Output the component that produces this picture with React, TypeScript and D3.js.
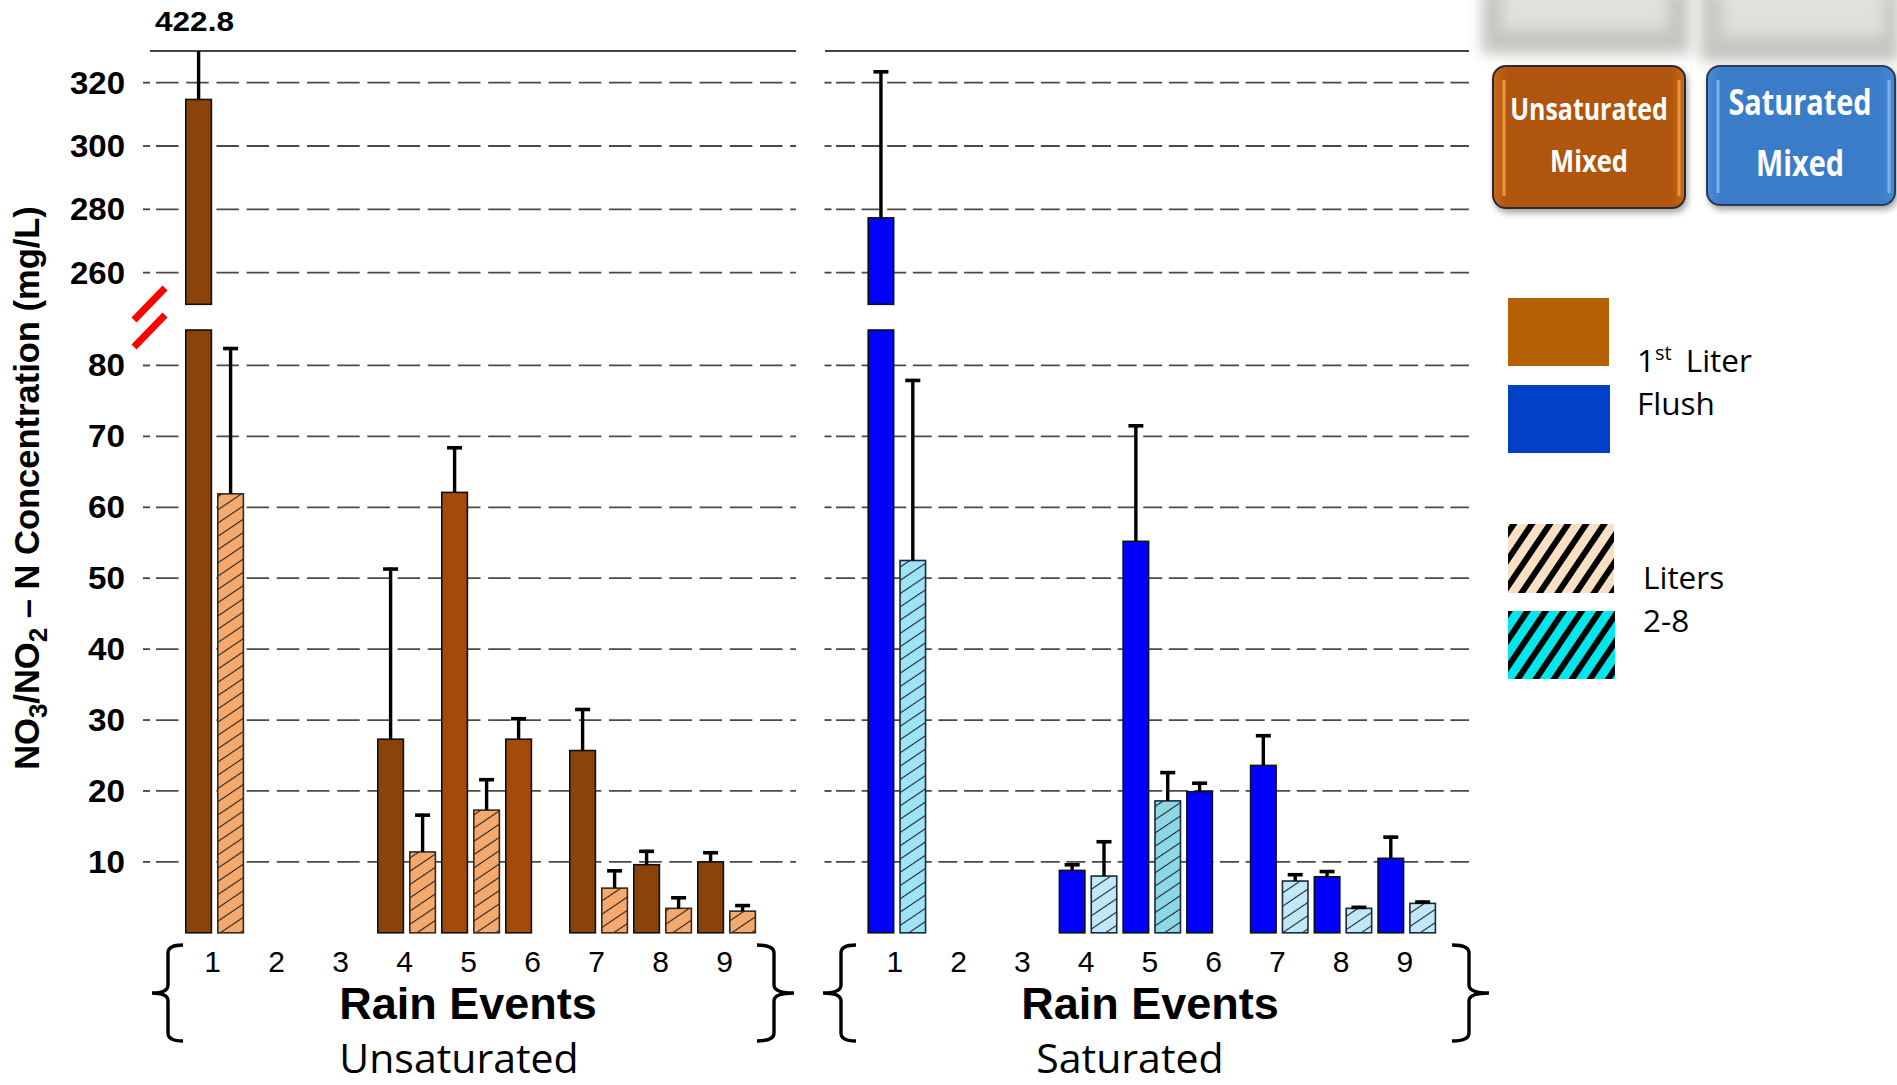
import React from 'react';
import * as d3 from 'd3';

// ---------- data ----------
const events = ['1', '2', '3', '4', '5', '6', '7', '8', '9'];
// mean values (mg/L); null = no sample
const unsatFirst = [314.7, null, null, 27.3, 62.1, 27.3, 25.7, 9.6, 10.0];
const unsatFirstErr = [422.8, null, null, 51.5, 68.6, 30.4, 31.7, 11.7, 11.5];
const unsatRest = [61.9, null, null, 11.4, 17.3, null, 6.3, 3.45, 3.05];
const unsatRestErr = [82.6, null, null, 16.8, 21.8, null, 8.95, 5.15, 4.05];
const satFirst = [277.3, null, null, 8.8, 55.2, 19.9, 23.6, 7.9, 10.5];
const satFirstErr = [323.9, null, null, 9.8, 71.7, 21.3, 28.0, 8.85, 13.7];
const satRest = [52.5, null, null, 8.0, 18.6, null, 7.3, 3.45, 4.15];
const satRestErr = [78.1, null, null, 13.05, 22.8, null, 8.4, 3.8, 4.55];
const upperTicks = [260, 280, 300, 320];
const lowerTicks = [10, 20, 30, 40, 50, 60, 70, 80];
const clippedLabel = '422.8';

// ---------- styles ----------
const unsatFirstColors = ['#8A4409', '', '', '#8A4409', '#A34C09', '#A34C09', '#8A4409', '#8A4409', '#8A4409'];
const unsatRestColors = ['#F5A96C', '', '', '#F5A96C', '#F5A96C', '', '#F5A96C', '#F5A96C', '#F5A96C'];
const satFirstColors = ['#0000FF', '', '', '#0000FF', '#0000FF', '#0000FF', '#0000FF', '#0000FF', '#0000FF'];
const satRestColors = ['#9EE4F8', '', '', '#C0E8F8', '#8ED8E6', '', '#C0E8F8', '#C0E8F8', '#C0E8F8'];

const ARIAL = 'Liberation Sans, Arial, Helvetica, sans-serif';
const OPEN = 'Open Sans, Noto Sans, sans-serif';

const W = 1897;
const H = 1085;

const yUp = d3.scaleLinear().domain([250, 330]).range([304.3, 51]);
const yLo = d3.scaleLinear().domain([0, 85]).range([932.8, 330]);
const LO_MAX = 85;
const UP_MAX = 330;

type Panel = {
  key: string;
  first: (number | null)[];
  firstErr: (number | null)[];
  rest: (number | null)[];
  restErr: (number | null)[];
  firstColors: string[];
  restColors: string[];
  range: [number, number];
  topX: [number, number];
  tickX: number;
  gridStart: number;
  dash: string;
  label: string;
  labelX: number;
  titleX: number;
  braces: [number, number, number, number];
  hatchStroke: string;
};

const panels: Panel[] = [
  {
    key: 'unsat',
    first: unsatFirst, firstErr: unsatFirstErr, rest: unsatRest, restErr: unsatRestErr,
    firstColors: unsatFirstColors, restColors: unsatRestColors,
    range: [182.6, 758.6], topX: [150, 796], tickX: 143, gridStart: 156, dash: '22.5,7.7',
    label: 'Unsaturated', labelX: 459, titleX: 468,
    braces: [168, 152, 774, 794], hatchStroke: '#3a2a1a',
  },
  {
    key: 'sat',
    first: satFirst, firstErr: satFirstErr, rest: satRest, restErr: satRestErr,
    firstColors: satFirstColors, restColors: satRestColors,
    range: [865, 1438.6], topX: [825, 1469], tickX: 824.5, gridStart: 836, dash: '19,6.6',
    label: 'Saturated', labelX: 1130, titleX: 1150,
    braces: [841, 823, 1469, 1489], hatchStroke: '#1a2a3a',
  },
];

function Bar({ v, err, x, w, fill, hatched, stroke }: any) {
  const parts: any[] = [];
  const segs: [number, number][] = [];
  if (v > LO_MAX) {
    segs.push([yLo(LO_MAX), yLo(0)]);
    segs.push([yUp(Math.min(v, UP_MAX)), yUp(250)]);
  } else {
    segs.push([yLo(v), yLo(0)]);
  }
  segs.forEach(([y0, y1], i) => {
    parts.push(<rect key={'f' + i} x={x} y={y0} width={w} height={y1 - y0} fill={fill} />);
    if (hatched) parts.push(<rect key={'h' + i} x={x} y={y0} width={w} height={y1 - y0} fill="url(#hatchThin)" />);
    parts.push(<rect key={'s' + i} x={x} y={y0} width={w} height={y1 - y0} fill="none" stroke={stroke} strokeWidth={1.6} />);
  });
  const cx = x + w / 2;
  const sc = v > LO_MAX ? yUp : yLo;
  const yTop = sc(v);
  const clipped = err > (v > LO_MAX ? UP_MAX : LO_MAX);
  const yErr = v > LO_MAX ? yUp(Math.min(err, UP_MAX)) : yLo(Math.min(err, LO_MAX));
  parts.push(<line key="e" x1={cx} x2={cx} y1={yTop} y2={yErr} stroke="#000" strokeWidth={3.4} />);
  if (!clipped) parts.push(<line key="c" x1={cx - 7.5} x2={cx + 7.5} y1={yErr + 1.5} y2={yErr + 1.5} stroke="#000" strokeWidth={3.6} />);
  return <g>{parts}</g>;
}

function bracePath(xv: number, tip: number, top: number, bot: number, hook: number) {
  const mid = (top + bot) / 2;
  const dir = Math.sign(tip - xv);
  const hx = xv - dir * hook;
  return `M${hx},${top} Q${xv},${top} ${xv},${top + 8} L${xv},${mid - 8} Q${xv},${mid} ${tip},${mid} Q${xv},${mid} ${xv},${mid + 8} L${xv},${bot - 8} Q${xv},${bot} ${hx},${bot}`;
}

export default function App() {
  return (
    <svg width={W} height={H} style={{ position: 'absolute', left: 0, top: 0, background: '#fff' }} xmlns="http://www.w3.org/2000/svg">
      <defs>
        <pattern id="hatchThin" patternUnits="userSpaceOnUse" width="12" height="11" patternTransform="rotate(-34)">
          <line x1="0" y1="5.5" x2="12" y2="5.5" stroke="#222" strokeWidth="1.1" />
        </pattern>
        <pattern id="hatchBold" patternUnits="userSpaceOnUse" width="15" height="15" patternTransform="rotate(-56)">
          <rect x="0" y="0" width="15" height="6" fill="#000" />
        </pattern>
        <filter id="blur8" x="-20%" y="-50%" width="140%" height="200%">
          <feGaussianBlur stdDeviation="7" />
        </filter>
        <filter id="shadow" x="-10%" y="-10%" width="130%" height="130%">
          <feGaussianBlur in="SourceAlpha" stdDeviation="3" />
          <feOffset dx="2" dy="4" result="o" />
          <feComponentTransfer><feFuncA type="linear" slope="0.35" /></feComponentTransfer>
          <feMerge><feMergeNode /><feMergeNode in="SourceGraphic" /></feMerge>
        </filter>
        <linearGradient id="gradOrange" x1="0" x2="1" y1="0" y2="0">
          <stop offset="0" stopColor="#C7691A" />
          <stop offset="0.08" stopColor="#B0540A" />
          <stop offset="0.92" stopColor="#B0540A" />
          <stop offset="1" stopColor="#C7691A" />
        </linearGradient>
        <linearGradient id="gradBlue" x1="0" x2="1" y1="0" y2="0">
          <stop offset="0" stopColor="#4A8BD8" />
          <stop offset="0.08" stopColor="#3A7CC9" />
          <stop offset="0.92" stopColor="#3A7CC9" />
          <stop offset="1" stopColor="#4A8BD8" />
        </linearGradient>
      </defs>

      {panels.map((p) => {
        const x0 = d3.scaleBand<string>().domain(events).range(p.range).paddingInner(0).paddingOuter(0);
        const x1 = d3.scaleBand<string>().domain(['first', 'rest']).range([0, x0.bandwidth()]).paddingInner(0.2).paddingOuter(0.1);
        const allTicks = [...upperTicks.map((t) => yUp(t)), ...lowerTicks.map((t) => yLo(t))];
        return (
          <g key={p.key}>
            <line x1={p.topX[0]} x2={p.topX[1]} y1={yUp(UP_MAX)} y2={yUp(UP_MAX)} stroke="#444" strokeWidth={2.2} />
            {allTicks.map((y, i) => (
              <g key={i}>
                <line x1={p.tickX} x2={p.tickX + 7} y1={y} y2={y} stroke="#444" strokeWidth={1.8} />
                <line x1={p.gridStart} x2={p.topX[1]} y1={y} y2={y} stroke="#4a4a4a" strokeWidth={1.8} strokeDasharray={p.dash} />
              </g>
            ))}
            {events.map((e, i) => (
              <g key={e}>
                {p.first[i] != null && (
                  <Bar v={p.first[i]} err={p.firstErr[i]} x={(x0(e) as number) + (x1('first') as number)} w={x1.bandwidth()} fill={p.firstColors[i]} hatched={false} stroke="#111" />
                )}
                {p.rest[i] != null && (
                  <Bar v={p.rest[i]} err={p.restErr[i]} x={(x0(e) as number) + (x1('rest') as number)} w={x1.bandwidth()} fill={p.restColors[i]} hatched={true} stroke={p.hatchStroke} />
                )}
              </g>
            ))}
            {events.map((e) => (
              <text key={'l' + e} x={(x0(e) as number) + x0.bandwidth() / 2 - 2} y={972} textAnchor="middle" fontFamily={ARIAL} fontSize={30} fill="#000">{e}</text>
            ))}
            <path d={bracePath(p.braces[0], p.braces[1], 945, 1041, 15)} fill="none" stroke="#000" strokeWidth={3.4} />
            <path d={bracePath(p.braces[2], p.braces[3], 945, 1041, 17)} fill="none" stroke="#000" strokeWidth={3.4} />
            <text x={p.titleX} y={1019} textAnchor="middle" fontFamily={ARIAL} fontWeight="bold" fontSize={45} fill="#000">Rain Events</text>
            <text x={p.labelX} y={1073} textAnchor="middle" fontFamily={OPEN} fontSize={41} fill="#000">{p.label}</text>
          </g>
        );
      })}

      {upperTicks.map((t) => (
        <text key={'u' + t} x={125} y={yUp(t) + 11} textAnchor="end" fontFamily={ARIAL} fontWeight="bold" fontSize={30.5} textLength={55} lengthAdjust="spacingAndGlyphs">{t}</text>
      ))}
      {lowerTicks.map((t) => (
        <text key={'d' + t} x={125} y={yLo(t) + 11} textAnchor="end" fontFamily={ARIAL} fontWeight="bold" fontSize={30.5} textLength={37} lengthAdjust="spacingAndGlyphs">{t}</text>
      ))}
      <text x={194.5} y={30.5} textAnchor="middle" fontFamily={ARIAL} fontWeight="bold" fontSize={27.5} textLength={79} lengthAdjust="spacingAndGlyphs">{clippedLabel}</text>

      <line x1={134} y1={320} x2={165} y2={288} stroke="#FF0000" strokeWidth={7} />
      <line x1={134} y1={347} x2={165} y2={315} stroke="#FF0000" strokeWidth={7} />

      <text transform="translate(39,488) rotate(-90)" textAnchor="middle" fontFamily={ARIAL} fontWeight="bold" fontSize={34.5} fill="#000">
        NO<tspan fontSize={26} dy={8}>3</tspan><tspan dy={-8}>/NO</tspan><tspan fontSize={26} dy={8}>2</tspan><tspan dy={-8}> – N Concentration (mg/L)</tspan>
      </text>

      <g filter="url(#blur8)">
        <rect x={1482} y={-10} width={208} height={64} fill="#c4c4c0" />
        <rect x={1502} y={-10} width={166} height={40} fill="#e0e0dc" />
        <rect x={1700} y={-10} width={200} height={72} fill="#c6c6c2" />
        <rect x={1722} y={-10} width={162} height={46} fill="#e0e0dc" />
      </g>

      <g filter="url(#shadow)">
        <rect x={1493} y={66} width={192} height={142} rx={13} fill="url(#gradOrange)" stroke="#2b2b35" strokeWidth={2} />
        <rect x={1707} y={66} width={188} height={139} rx={13} fill="url(#gradBlue)" stroke="#2b3a55" strokeWidth={2} />
      </g>
      <line x1={1504} x2={1504} y1={80} y2={196} stroke="#E9973F" strokeWidth={3} />
      <line x1={1679} x2={1679} y1={80} y2={196} stroke="#E9973F" strokeWidth={3} />
      <line x1={1718} x2={1718} y1={80} y2={193} stroke="#7FB3EC" strokeWidth={3} />
      <line x1={1889} x2={1889} y1={80} y2={193} stroke="#7FB3EC" strokeWidth={3} />
      <text transform="translate(1589,120) scale(0.82,1)" textAnchor="middle" fontFamily={OPEN} fontWeight="bold" fontSize={30} fill="#fff" textLength={192} lengthAdjust="spacingAndGlyphs">Unsaturated</text>
      <text transform="translate(1589,172) scale(0.82,1)" textAnchor="middle" fontFamily={OPEN} fontWeight="bold" fontSize={30} fill="#fff" textLength={95} lengthAdjust="spacingAndGlyphs">Mixed</text>
      <text transform="translate(1800,115) scale(0.8,1)" textAnchor="middle" fontFamily={OPEN} fontWeight="bold" fontSize={35} fill="#fff" textLength={179} lengthAdjust="spacingAndGlyphs">Saturated</text>
      <text transform="translate(1800,176) scale(0.8,1)" textAnchor="middle" fontFamily={OPEN} fontWeight="bold" fontSize={35} fill="#fff" textLength={110} lengthAdjust="spacingAndGlyphs">Mixed</text>

      <rect x={1508} y={298} width={101} height={68} fill="#B46006" />
      <rect x={1508} y={385} width={102} height={68} fill="#0340C8" />
      <text x={1637} y={372} fontFamily={OPEN} fontSize={31.5} fill="#000">
        1<tspan fontSize={20} dy={-12}>st</tspan><tspan dx={14} dy={12}>Liter</tspan>
      </text>
      <text x={1637} y={415} fontFamily={OPEN} fontSize={31.5} fill="#000">Flush</text>
      <rect x={1508} y={524} width={106} height={69} fill="#FAE0C2" />
      <rect x={1508} y={524} width={106} height={69} fill="url(#hatchBold)" />
      <rect x={1508} y={611} width={107} height={68} fill="#00E6EA" />
      <rect x={1508} y={611} width={107} height={68} fill="url(#hatchBold)" />
      <text x={1643} y={589} fontFamily={OPEN} fontSize={31.5} fill="#000">Liters</text>
      <text x={1643} y={632} fontFamily={OPEN} fontSize={31.5} fill="#000">2-8</text>
    </svg>
  );
}
